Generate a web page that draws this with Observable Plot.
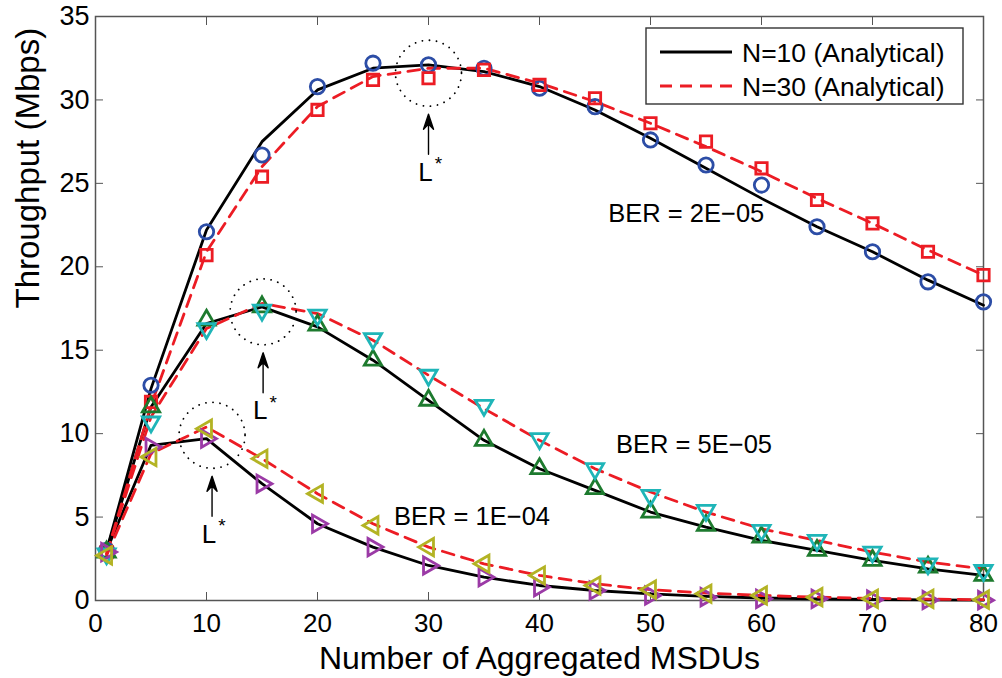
<!DOCTYPE html>
<html><head><meta charset="utf-8">
<script src="https://cdn.jsdelivr.net/npm/d3@7"></script>
<script src="https://cdn.jsdelivr.net/npm/@observablehq/plot@0.6"></script>
<style>
html,body{margin:0;padding:0;background:#fff;}
#chart{width:1002px;height:678px;}
</style></head><body><div id="chart"></div>
<script>
// ---- data ----
const msdus = [1, 5, 10, 15, 20, 25, 30, 35, 40, 45, 50, 55, 60, 65, 70, 75, 80];
const xTicks = [0, 10, 20, 30, 40, 50, 60, 70, 80];
const yTicks = [0, 5, 10, 15, 20, 25, 30, 35];

// BER = 2E-05
const ana2N10 = [3.0, 12.7, 22.2, 27.5, 30.6, 31.9, 32.1, 31.7, 30.8, 29.4, 27.7, 25.9, 24.1, 22.4, 20.9, 19.2, 17.7];
const ana2N30 = [2.8, 11.7, 20.9, 26.0, 29.6, 31.4, 31.9, 31.9, 31.0, 29.9, 28.6, 27.2, 25.7, 24.1, 22.6, 21.0, 19.5];
const sim2N10 = [3.0, 12.9, 22.1, 26.7, 30.8, 32.2, 32.1, 31.9, 30.7, 29.6, 27.6, 26.1, 24.9, 22.4, 20.9, 19.1, 17.9];
const sim2N30 = [2.9, 11.9, 20.7, 25.4, 29.4, 31.2, 31.3, 31.8, 30.9, 30.1, 28.6, 27.5, 25.9, 24.0, 22.6, 20.9, 19.5];
// BER = 5E-05
const ana5N10 = [3.0, 11.6, 16.6, 17.6, 16.4, 14.4, 12.0, 9.6, 7.9, 6.6, 5.3, 4.4, 3.6, 3.0, 2.4, 1.9, 1.5];
const ana5N30 = [2.8, 11.0, 16.3, 17.8, 17.2, 15.6, 13.5, 11.5, 9.6, 7.9, 6.5, 5.3, 4.3, 3.6, 2.9, 2.3, 1.9];
const sim5N10 = [2.9, 11.6, 16.8, 17.6, 16.5, 14.4, 12.0, 9.6, 7.9, 6.7, 5.3, 4.5, 3.8, 3.0, 2.4, 2.0, 1.5];
const sim5N30 = [2.8, 10.7, 16.3, 17.4, 17.1, 15.7, 13.5, 11.7, 9.7, 7.9, 6.3, 5.4, 4.2, 3.6, 2.9, 2.2, 1.8];
// BER = 1E-04
const ana1N10 = [3.0, 9.3, 9.7, 7.0, 4.6, 3.2, 2.1, 1.4, 0.9, 0.6, 0.4, 0.25, 0.15, 0.1, 0.06, 0.04, 0.02];
const ana1N30 = [2.7, 8.8, 10.4, 8.5, 6.4, 4.6, 3.2, 2.2, 1.5, 1.0, 0.65, 0.45, 0.3, 0.2, 0.13, 0.08, 0.05];
const sim1N10 = [2.9, 9.2, 9.7, 7.0, 4.6, 3.2, 2.1, 1.4, 0.8, 0.6, 0.3, 0.2, 0.1, 0.1, 0.05, 0.03, 0.02];
const sim1N30 = [2.7, 8.6, 10.3, 8.5, 6.4, 4.5, 3.2, 2.2, 1.5, 0.9, 0.65, 0.4, 0.3, 0.2, 0.1, 0.1, 0.05];

// annotations
const berText = ["BER = 2E\u221205", "BER = 5E\u221205", "BER = 1E\u221204"];
const berX = [46.2, 46.9, 26.9];
const berY = [23.2, 9.35, 5.03];
const optL = [30, 15.1, 10.5];       // optimum L* (circle centres)
const optThr = [31.6, 17.3, 9.9];
const legendLabels = ["N=10 (Analytical)", "N=30 (Analytical)"];

// ---- build tables ----
const rows = (ys) => msdus.map((x, i) => ({x, y: ys[i]}));
const FONT = "'Liberation Sans', Arial, Helvetica, sans-serif";
const RED = "#ec1c24";

const sims = [
  {ys: sim2N10, symbol: "circle", rotate: 0, color: "#2c4da6", r: 7.2},
  {ys: sim2N30, symbol: "square", rotate: 0, color: RED, r: 6.4},
  {ys: sim5N10, symbol: "triangle", rotate: 0, color: "#1d7a2e", r: 6.4},
  {ys: sim5N30, symbol: "triangle", rotate: 180, color: "#1fb5b8", r: 6.4},
  {ys: sim1N10, symbol: "triangle", rotate: 90, color: "#9b3aa6", r: 6.4},
  {ys: sim1N30, symbol: "triangle", rotate: -90, color: "#b3b324", r: 6.4}
];

const optRows = optL.map((x, i) => ({x, y: optThr[i]}));
const berRows = berText.map((t, i) => ({t, x: berX[i], y: berY[i]}));

const arrowShape = {
  draw(ctx, l) {
    const hl = 15, hw = 5;
    ctx.moveTo(0, 0);
    ctx.lineTo(0, -l + hl * 0.6);
    ctx.moveTo(0, -l);
    ctx.lineTo(-hw, -l + hl);
    ctx.lineTo(0, -l + hl * 0.65);
    ctx.lineTo(hw, -l + hl);
    ctx.closePath();
  }
};

const marks = [
  Plot.frame({stroke: "#555", strokeWidth: 1.5}),
  Plot.axisX({ticks: xTicks, tickSize: -8, tickPadding: 21, fontSize: 26, label: null, stroke: "#555"}),
  Plot.axisX({anchor: "top", ticks: xTicks, tickSize: -8, tickFormat: () => "", label: null, stroke: "#555"}),
  Plot.axisY({ticks: yTicks, tickSize: -8, tickPadding: 14, fontSize: 27, label: null, stroke: "#555"}),
  Plot.axisY({anchor: "right", ticks: yTicks, tickSize: -8, tickFormat: () => "", label: null, stroke: "#555"}),
  // analytical N=10 (solid)
  ...[ana2N10, ana5N10, ana1N10].map(ys => Plot.line(rows(ys), {x: "x", y: "y", stroke: "black", strokeWidth: 2.8})),
  // analytical N=30 (dashed)
  ...[ana2N30, ana5N30, ana1N30].map(ys => Plot.line(rows(ys), {x: "x", y: "y", stroke: RED, strokeWidth: 2.8, strokeDasharray: "12,8"})),
  // simulation markers
  ...sims.map(s => Plot.dot(rows(s.ys), {x: "x", y: "y", symbol: s.symbol, rotate: s.rotate, r: s.r, stroke: s.color, strokeWidth: 2.8, fill: "none"})),
  // L* annotations
  Plot.dot(optRows, {x: "x", y: "y", r: 33, stroke: "black", strokeWidth: 1.8, strokeDasharray: "0.1,7", strokeLinecap: "round", fill: "none"}),
  Plot.vector(optRows, {x: "x", y: "y", length: 40, rotate: 0, anchor: "start", dy: 81, shape: arrowShape, stroke: "black", fill: "black", strokeWidth: 1.4}),
  Plot.text(optRows, {x: "x", y: "y", text: () => "L", dy: 99, dx: -3, fontSize: 26, fill: "black"}),
  Plot.text(optRows, {x: "x", y: "y", text: () => "*", dy: 91, dx: 10, fontSize: 19, fill: "black"}),
  // BER labels
  Plot.text(berRows, {x: "x", y: "y", text: "t", textAnchor: "start", fontSize: 25.5, fill: "black"}),
  // axis labels
  Plot.text(["Throughput (Mbps)"], {frameAnchor: "left", rotate: -90, dx: -67, fontSize: 33, fill: "black"}),
  Plot.text(["Number of Aggregated MSDUs"], {frameAnchor: "bottom", dy: 68, fontSize: 32, fill: "black"})
];

const plot = Plot.plot({
  width: 1002,
  height: 678,
  marginLeft: 95,
  marginRight: 19,
  marginTop: 16,
  marginBottom: 78,
  x: {domain: [0, 80]},
  y: {domain: [0, 35]},
  style: {fontFamily: FONT, fontSize: "27px", background: "white", color: "black"},
  marks
});

// legend (inside the axes, top-right)
const svg = d3.select(plot);
const lg = svg.append("g").attr("font-family", FONT).attr("text-anchor", "start");
lg.append("rect").attr("x", 646).attr("y", 28).attr("width", 317).attr("height", 76)
  .attr("fill", "white").attr("stroke", "#333").attr("stroke-width", 1.4);
const legendStyles = [{stroke: "black", dash: null}, {stroke: RED, dash: "12,8"}];
legendLabels.forEach((lab, i) => {
  const cy = 52 + i * 34;
  lg.append("line").attr("x1", 660).attr("x2", 732).attr("y1", cy).attr("y2", cy)
    .attr("stroke", legendStyles[i].stroke).attr("stroke-width", 3)
    .attr("stroke-dasharray", legendStyles[i].dash);
  lg.append("text").attr("x", 742).attr("y", cy + 9.5).attr("font-size", 26.5)
    .attr("text-anchor", "start").attr("fill", "black").text(lab);
});

document.getElementById("chart").appendChild(plot);
</script>
</body></html>
